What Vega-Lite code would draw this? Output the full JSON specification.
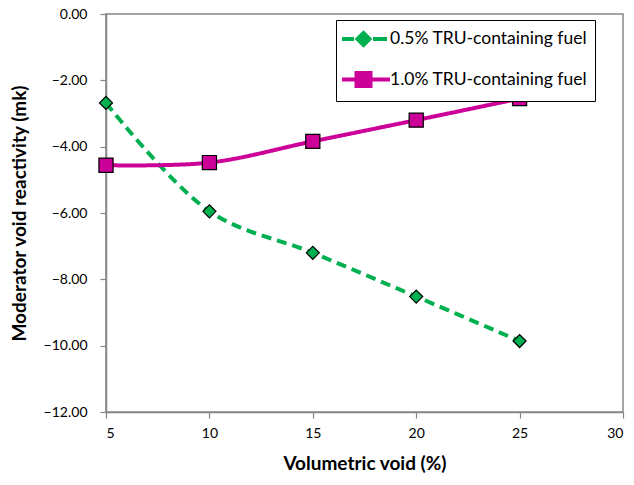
{
  "$schema": "https://vega.github.io/schema/vega-lite/v6.json",
  "width": 517,
  "height": 398,
  "autosize": {"type": "none"},
  "padding": {"left": 106, "top": 14, "right": 11, "bottom": 73},
  "background": "white",
  "config": {
    "font": "Lato",
    "view": {"stroke": "#868686", "strokeWidth": 1.5},
    "axis": {"grid": false, "domainColor": "#868686", "tickColor": "#868686", "domainWidth": 1.5, "tickWidth": 1.2, "labelColor": "black", "titleColor": "black", "labelFont": "Lato", "titleFont": "Lato", "labelFontSize": 14, "titleFontSize": 19, "titleFontWeight": "bold", "tickSize": 6}
  },
  "data": {
    "values": [
      {"void": 5, "reactivity": -2.68, "series": "0.5% TRU-containing fuel"},
      {"void": 10, "reactivity": -5.95, "series": "0.5% TRU-containing fuel"},
      {"void": 15, "reactivity": -7.2, "series": "0.5% TRU-containing fuel"},
      {"void": 20, "reactivity": -8.52, "series": "0.5% TRU-containing fuel"},
      {"void": 25, "reactivity": -9.86, "series": "0.5% TRU-containing fuel"},
      {"void": 5, "reactivity": -4.56, "series": "1.0% TRU-containing fuel"},
      {"void": 10, "reactivity": -4.48, "series": "1.0% TRU-containing fuel"},
      {"void": 15, "reactivity": -3.84, "series": "1.0% TRU-containing fuel"},
      {"void": 20, "reactivity": -3.2, "series": "1.0% TRU-containing fuel"},
      {"void": 25, "reactivity": -2.55, "series": "1.0% TRU-containing fuel"}
    ]
  },
  "encoding": {
    "x": {"field": "void", "type": "quantitative", "scale": {"domain": [5, 30], "nice": false, "zero": false}, "axis": {"values": [5, 10, 15, 20, 25, 30], "title": "Volumetric void (%)", "titlePadding": 14, "labelPadding": 8}},
    "y": {"field": "reactivity", "type": "quantitative", "scale": {"domain": [-12, 0], "nice": false}, "axis": {"values": [-12, -10, -8, -6, -4, -2, 0], "format": ".2f", "title": "Moderator void reactivity (mk)", "titlePadding": 14, "labelPadding": 13}}
  },
  "layer": [
    {
      "mark": {"type": "line", "interpolate": "catmull-rom", "strokeWidth": 4},
      "encoding": {
        "color": {"field": "series", "type": "nominal", "scale": {"domain": ["0.5% TRU-containing fuel", "1.0% TRU-containing fuel"], "range": ["#00B050", "#CC0099"]}, "legend": {
          "title": null, "orient": "none", "legendX": 230, "legendY": 6, "strokeColor": "black", "fillColor": "white", "padding": 7, "labelFontSize": 17.5, "labelFont": "Lato", "labelColor": "black", "rowPadding": 11.5, "symbolSize": 400, "symbolStrokeWidth": 4, "labelOffset": 23, "labelLimit": 300,
          "encode": {"symbols": {"update": {"shape": {"signal": "datum.value === '0.5% TRU-containing fuel' ? 'M-1.3,0H-0.1M0.25,0L0.85,-0.6L1.45,0L0.85,0.6ZM1.8,0H3.2' : 'M-1.3,0H0.15M0.15,-0.65H1.55V0.65H0.15ZM1.55,0H3.5'"}, "fill": {"signal": "datum.value === '0.5% TRU-containing fuel' ? '#00B050' : '#CC0099'"}, "strokeDash": {"value": []}}}}
        }},
        "strokeDash": {"field": "series", "type": "nominal", "scale": {"domain": ["0.5% TRU-containing fuel", "1.0% TRU-containing fuel"], "range": [[10, 6], [1, 0]]}, "legend": null}
      }
    },
    {
      "mark": {"type": "point", "filled": true, "stroke": "black", "strokeWidth": 1.2, "opacity": 1},
      "encoding": {
        "shape": {"field": "series", "type": "nominal", "scale": {"domain": ["0.5% TRU-containing fuel", "1.0% TRU-containing fuel"], "range": ["diamond", "square"]}, "legend": null},
        "fill": {"field": "series", "type": "nominal", "scale": {"domain": ["0.5% TRU-containing fuel", "1.0% TRU-containing fuel"], "range": ["#00B050", "#CC0099"]}, "legend": null},
        "size": {"field": "series", "type": "nominal", "scale": {"domain": ["0.5% TRU-containing fuel", "1.0% TRU-containing fuel"], "range": [170, 200]}, "legend": null}
      }
    }
  ],
  "resolve": {"scale": {"color": "independent"}}
}
